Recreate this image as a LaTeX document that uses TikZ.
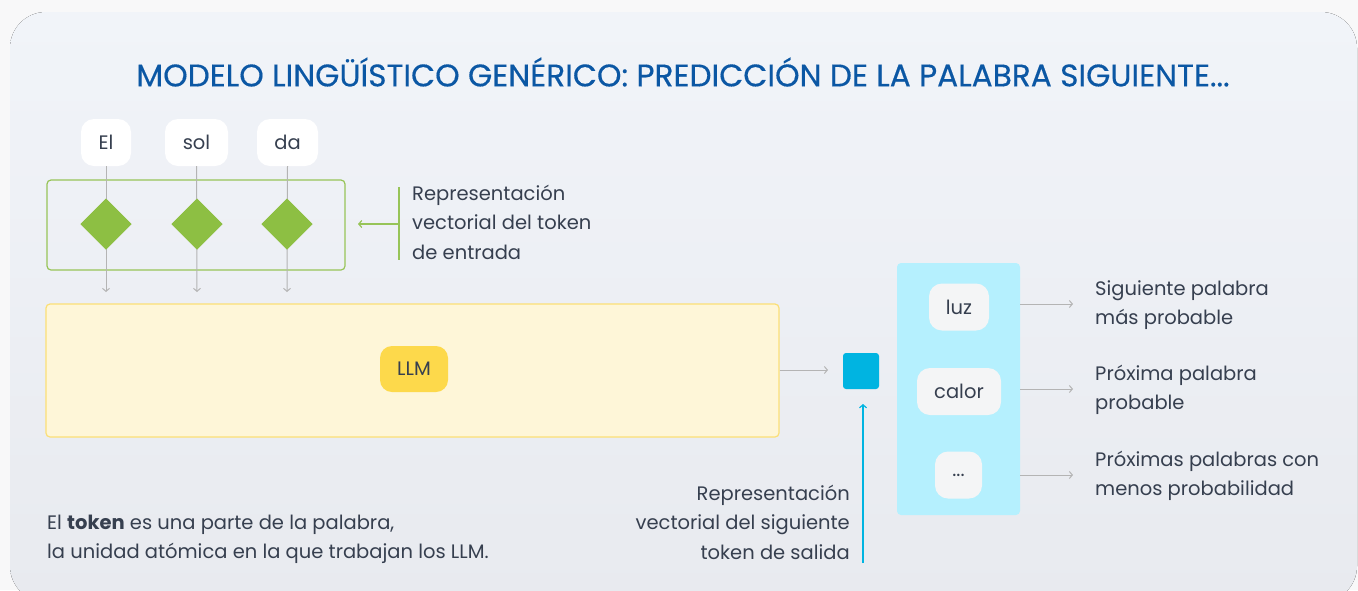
\documentclass[tikz,border=0pt]{standalone}
\usepackage{fontspec}
\setmainfont{Poppins}
\newfontfamily\titlefont[FakeBold=0.4]{Poppins}
\usetikzlibrary{arrows.meta,shapes.geometric}
\definecolor{txt}{HTML}{363F4F}
\definecolor{ttl}{HTML}{0B57A4}
\definecolor{gline}{HTML}{B4B4B4}
\definecolor{grn}{HTML}{8DBF43}
\definecolor{grnbox}{HTML}{97C458}
\definecolor{llmfill}{HTML}{FEF6D8}
\definecolor{llmdraw}{HTML}{FBDF76}
\definecolor{llmchip}{HTML}{FDD94B}
\definecolor{bsq}{HTML}{00B4E1}
\definecolor{cyanp}{HTML}{B5F0FE}
\definecolor{chipf}{HTML}{F4F5F6}
\definecolor{outer}{HTML}{F8F8F9}
\definecolor{cardtop}{HTML}{F1F4F9}
\definecolor{cardbot}{HTML}{E8EAEF}
\tikzset{
  txtfont/.style={font=\fontsize{19.5}{29.5}\selectfont, text=txt},
  chip/.style={fill=white, rounded corners=13pt, minimum height=47pt, inner sep=0pt, txtfont},
  outchip/.style={fill=chipf, rounded corners=13pt, minimum height=47pt, inner sep=0pt, txtfont},
  gem/.style={diamond, fill=grn, minimum width=51pt, minimum height=51pt, inner sep=0pt},
  garrow/.style={draw=gline, line width=1pt, -{Straight Barb[length=3pt,width=7pt]}},
  label/.style={txtfont, inner sep=0pt, align=left},
}
\begin{document}
\begin{tikzpicture}[x=1pt,y=-1pt]
\useasboundingbox (0,0) rectangle (1358,590);
\fill[outer] (0,0) rectangle (1358,590);
\fill[top color=cardtop, bottom color=cardbot, rounded corners=36pt] (10,12) rectangle (1357,602);

\node[font=\titlefont\fontsize{31.2}{36}\selectfont, text=ttl] (title) at (683,72) {MODELO LINGÜÍSTICO GENÉRICO: PREDICCIÓN DE LA PALABRA SIGUIENTE...};

% input tokens
\node[chip, minimum width=50pt] (el) at (106,142.5) {El};
\node[chip, minimum width=63pt] (sol) at (196.5,142.5) {sol};
\node[chip, minimum width=61pt] (da) at (287.5,142.5) {da};

\node[draw=grnbox, line width=1.2pt, rounded corners=4pt, minimum width=298pt, minimum height=90pt, inner sep=0pt] (embbox) at (196,225) {};

\node[gem] (g1) at (106,224) {};
\node[gem] (g2) at (197,224) {};
\node[gem] (g3) at (287,224) {};

\coordinate (a1) at (106,292);
\coordinate (a2) at (197,292);
\coordinate (a3) at (287,292);
\draw[garrow] (el.south) -- (a1);
\draw[garrow] (sol.south) -- (a2);
\draw[garrow] (da.south) -- (a3);
\fill[grn] (g1.center) +(-25.5,0) -- +(0,-25.5) -- +(25.5,0) -- +(0,25.5) -- cycle;
\fill[grn] (g2.center) +(-25.5,0) -- +(0,-25.5) -- +(25.5,0) -- +(0,25.5) -- cycle;
\fill[grn] (g3.center) +(-25.5,0) -- +(0,-25.5) -- +(25.5,0) -- +(0,25.5) -- cycle;

% bracket for input representation
\coordinate (bt) at (399,187);
\coordinate (bb) at (399,260);
\coordinate (bm) at (399,224);
\coordinate (bend) at (358,224);
\draw[grnbox, line width=1.2pt] (bt) -- (bb);
\draw[grnbox, line width=1.2pt, -{Straight Barb[length=3pt,width=7pt]}] (bm) -- (bend);
\node[label, anchor=base west] (inlbl) at (412,259) {Representación\\vectorial del token\\de entrada};

% LLM
\node[fill=llmfill, draw=llmdraw, line width=1.2pt, rounded corners=4pt, minimum width=733pt, minimum height=133pt, inner sep=0pt] (llm) at (412.5,370.5) {};
\node[fill=llmchip, rounded corners=12pt, minimum width=68pt, minimum height=46pt, inner sep=0pt, txtfont] (llmchip) at (414,369) {LLM};

% output vector
\node[fill=bsq, rounded corners=3pt, minimum width=36pt, minimum height=36pt, inner sep=0pt] (vec) at (861,371) {};
\coordinate (llmout) at (828,370);
\draw[garrow] (llm.east |- llmout) -- (llmout);
\coordinate (vb) at (863,563);
\coordinate (vt) at (863,404);
\draw[bsq, line width=1.2pt, -{Straight Barb[length=3pt,width=7pt]}] (vb) -- (vt);
\node[label, align=right, anchor=base east] (outlbl) at (850,559) {Representación\\vectorial del siguiente\\token de salida};

% output panel
\node[fill=cyanp, rounded corners=4pt, minimum width=123pt, minimum height=252pt, inner sep=0pt] (panel) at (958.5,389) {};
\node[outchip, minimum width=60pt] (luz) at (959,307) {luz};
\node[outchip, minimum width=84pt] (calor) at (959,391.5) {calor};
\node[outchip, minimum width=47pt] (dots) at (958.5,475) {...};

\coordinate (o1) at (1073,304);
\coordinate (o2) at (1073,389);
\coordinate (o3) at (1073,475);
\draw[garrow] (panel.east |- o1) -- (o1);
\draw[garrow] (panel.east |- o2) -- (o2);
\draw[garrow] (panel.east |- o3) -- (o3);

\node[label, anchor=base west] (l1) at (1095,324.5) {Siguiente palabra\\más probable};
\node[label, anchor=base west] (l2) at (1095,409.5) {Próxima palabra\\probable};
\node[label, anchor=base west] (l3) at (1095,495.5) {Próximas palabras con\\menos probabilidad};

\node[label, anchor=base west] (note) at (47,558.5) {El \textbf{token} es una parte de la palabra,\\la unidad atómica en la que trabajan los LLM.};
\end{tikzpicture}
\end{document}
